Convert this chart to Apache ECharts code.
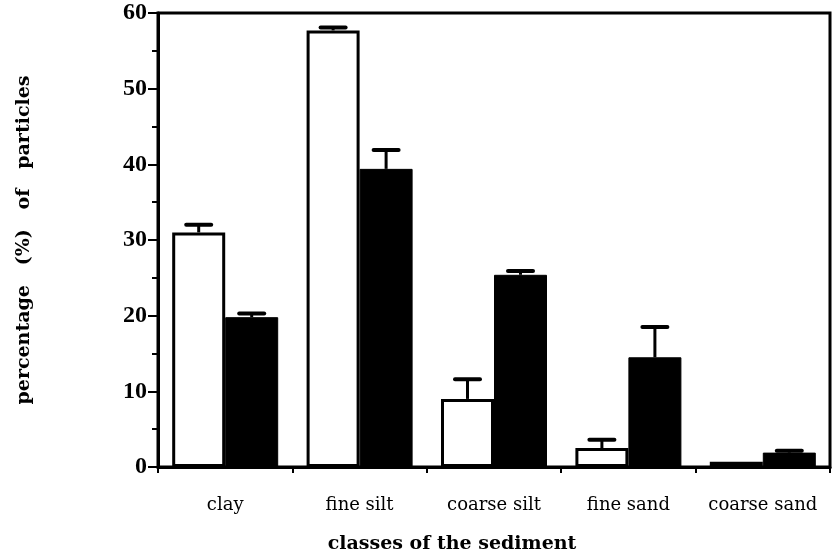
<!DOCTYPE html>
<html>
<head>
<meta charset="utf-8">
<script src="https://cdn.jsdelivr.net/npm/echarts@6/dist/echarts.min.js"></script>
<style>
html,body{margin:0;padding:0;background:#fff;}
#chart{width:837px;height:554px;}
</style>
</head>
<body>
<div id="chart"></div>
<script>
// ---- data ----
const categories = ['clay', 'fine silt', 'coarse silt', 'fine sand', 'coarse sand'];
const whiteValues = [31.0, 57.7, 9.0, 2.5, 0.7];
const whiteErrors = [1.0, 0.4, 2.6, 1.1, 0];
const blackValues = [19.8, 39.4, 25.4, 14.5, 1.9];
const blackErrors = [0.5, 2.5, 0.5, 4.0, 0.25];
const yTicks = [0, 10, 20, 30, 40, 50, 60];

const BAR_W = 53;
const serif = '"DejaVu Serif", "Liberation Serif", serif';

function errData(vals, errs) {
  return vals.map((v, i) => [i, v, errs[i]]);
}

function errRender(offset) {
  return function (params, api) {
    const x = api.value(0), v = api.value(1), e = api.value(2);
    if (!e) return null;
    const p0 = api.coord([x, v]);
    const p1 = api.coord([x, v + e]);
    const cx = p0[0] + offset;
    return {
      type: 'group',
      children: [
        { type: 'line', shape: { x1: cx, y1: p0[1], x2: cx, y2: p1[1] },
          style: { stroke: '#000', lineWidth: 3 } },
        { type: 'line', shape: { x1: cx - 12.5, y1: p1[1], x2: cx + 12.5, y2: p1[1] },
          style: { stroke: '#000', lineWidth: 4, lineCap: 'round' } }
      ]
    };
  };
}

const chart = echarts.init(document.getElementById('chart'), null, { renderer: 'canvas' });
chart.setOption({
  animation: false,
  backgroundColor: '#fff',
  grid: {
    left: 158, right: 7, top: 13, bottom: 87,
    containLabel: false, outerBoundsMode: 'none',
    show: true, borderColor: '#000', borderWidth: 3, backgroundColor: 'transparent'
  },
  xAxis: {
    type: 'category',
    data: categories,
    axisLine: { lineStyle: { color: '#000', width: 3 } },
    axisTick: { show: true, interval: 0, length: 6, lineStyle: { color: '#000', width: 2 } },
    axisLabel: { interval: 0, color: '#000', fontFamily: serif, fontSize: 18, margin: 29 },
    name: 'classes of the sediment',
    nameLocation: 'middle',
    nameGap: 68,
    nameTextStyle: { color: '#000', fontFamily: serif, fontSize: 19, fontWeight: 'bold', padding: [0, 84, 0, 0] }
  },
  yAxis: {
    type: 'value',
    min: yTicks[0], max: yTicks[yTicks.length - 1], interval: 10,
    axisLine: { show: true, lineStyle: { color: '#000', width: 3 } },
    axisTick: { show: true, length: 10, lineStyle: { color: '#000', width: 2 } },
    minorTick: { show: true, splitNumber: 2, length: 6, lineStyle: { color: '#000', width: 2 } },
    splitLine: { show: false },
    axisLabel: { color: '#000', fontFamily: '"Liberation Serif", serif', fontSize: 24, fontWeight: 'bold', margin: 11 },
    name: 'percentage   (%)   of   particles',
    nameLocation: 'middle',
    nameGap: 124,
    nameTextStyle: { color: '#000', fontFamily: serif, fontSize: 19, fontWeight: 'bold' }
  },
  series: [
    {
      type: 'bar', data: whiteValues, barWidth: BAR_W, barGap: '0%',
      itemStyle: { color: '#fff', borderColor: '#000', borderWidth: 3 }
    },
    {
      type: 'bar', data: blackValues, barWidth: BAR_W, barGap: '0%',
      itemStyle: { color: '#000', borderColor: '#000', borderWidth: 1 }
    },
    {
      type: 'custom', data: errData(whiteValues, whiteErrors),
      renderItem: errRender(-BAR_W / 2), encode: { x: 0, y: 1 }, z: 3
    },
    {
      type: 'custom', data: errData(blackValues, blackErrors),
      renderItem: errRender(BAR_W / 2), encode: { x: 0, y: 1 }, z: 3
    }
  ]
});
</script>
</body>
</html>
